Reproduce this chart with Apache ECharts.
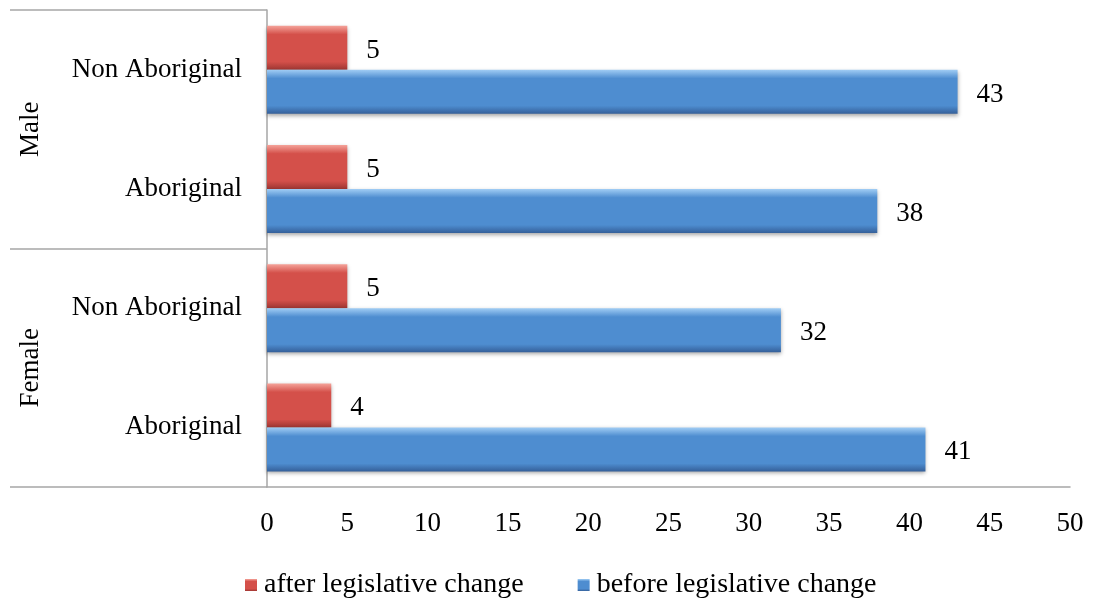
<!DOCTYPE html>
<html>
<head>
<meta charset="utf-8">
<script src="https://cdn.jsdelivr.net/npm/echarts@6/dist/echarts.min.js"></script>
<style>
  html, body { margin: 0; padding: 0; background: #fff; }
  #chart { width: 1094px; height: 599px; }
</style>
</head>
<body>
<div id="chart"></div>
<script>
// Sub-categories (bottom to top) and their sex group
const categories = ['Aboriginal', 'Non Aboriginal', 'Aboriginal', 'Non Aboriginal'];
const groups = ['Female', 'Male'];
const afterValues = [4, 5, 5, 5];
const beforeValues = [41, 32, 38, 43];
const seriesNames = ['after legislative change', 'before legislative change'];
const xTicks = { min: 0, max: 50, interval: 5 };

const FONT = 'Liberation Serif';
const AXIS_GREY = '#a6a6a6';

// Bevelled look: light top rim, flat body, dark bottom rim
function vGrad(top, mid, bottom) {
  return new echarts.graphic.LinearGradient(0, 0, 0, 1, [
    { offset: 0, color: top },
    { offset: 0.2, color: mid },
    { offset: 0.82, color: mid },
    { offset: 1, color: bottom }
  ]);
}

const barLabel = {
  show: true,
  position: 'right',
  distance: 19,
  offset: [0, 3],
  color: '#000',
  fontFamily: FONT,
  fontSize: 27
};

const chart = echarts.init(document.getElementById('chart'));
chart.setOption({
  animation: false,
  grid: { left: 267, right: 24, top: 10, bottom: 112 },
  legend: {
    top: 566,
    left: 240,
    itemWidth: 12,
    itemHeight: 12,
    itemGap: 54,
    icon: 'rect',
    data: seriesNames,
    textStyle: { fontFamily: FONT, fontSize: 28, color: '#000', padding: [0, 0, 0, 2] }
  },
  xAxis: {
    type: 'value',
    min: xTicks.min,
    max: xTicks.max,
    interval: xTicks.interval,
    splitLine: { show: false },
    axisTick: { show: false },
    axisLine: { show: true, lineStyle: { color: AXIS_GREY, width: 1.5 } },
    axisLabel: { color: '#000', fontFamily: FONT, fontSize: 27, margin: 23 }
  },
  yAxis: [
    {
      type: 'category',
      data: categories,
      axisLine: { show: true, lineStyle: { color: AXIS_GREY, width: 1.5 } },
      axisTick: { show: false },
      axisLabel: { color: '#000', fontFamily: FONT, fontSize: 27, margin: 25 }
    },
    {
      type: 'category',
      data: groups,
      position: 'left',
      axisLine: { show: false },
      axisTick: { show: true, length: 257, lineStyle: { color: AXIS_GREY, width: 1.5 } },
      axisLabel: { color: '#000', fontFamily: FONT, fontSize: 27, rotate: 90, margin: 223 }
    }
  ],
  series: [
    {
      name: seriesNames[0],
      type: 'bar',
      yAxisIndex: 0,
      data: afterValues,
      barWidth: 44,
      barGap: '0%',
      itemStyle: {
        color: vGrad('#f5a49b', '#d4504a', '#9e3632'),
        shadowColor: 'rgba(0,0,0,0.35)',
        shadowBlur: 4,
        shadowOffsetY: 2
      },
      label: barLabel
    },
    {
      name: seriesNames[1],
      type: 'bar',
      yAxisIndex: 0,
      data: beforeValues,
      barWidth: 44,
      barGap: '0%',
      itemStyle: {
        color: vGrad('#a2cef5', '#4e8dd0', '#35609a'),
        shadowColor: 'rgba(0,0,0,0.35)',
        shadowBlur: 4,
        shadowOffsetY: 2
      },
      label: barLabel
    }
  ]
});
</script>
</body>
</html>
